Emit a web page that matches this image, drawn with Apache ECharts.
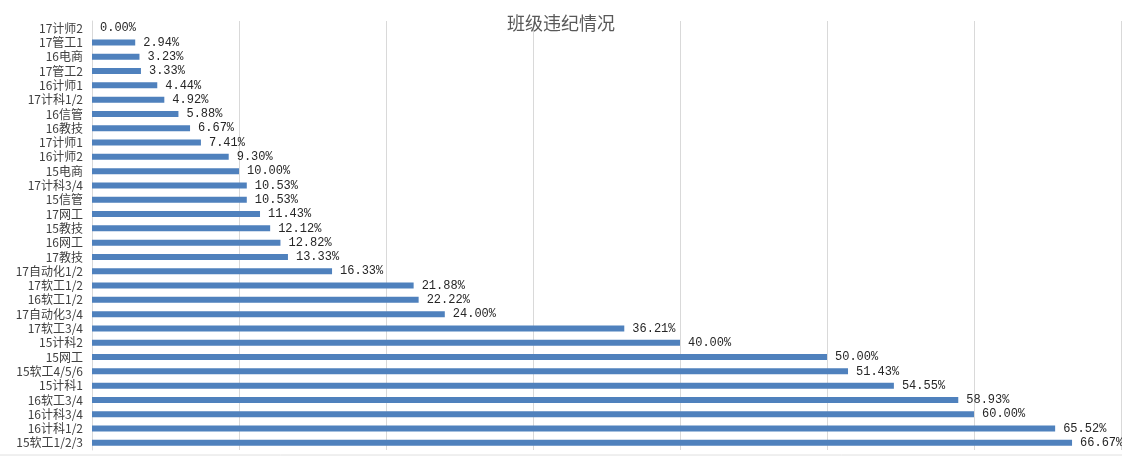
<!DOCTYPE html>
<html><head><meta charset="utf-8">
<script src="https://cdn.jsdelivr.net/npm/echarts@6/dist/echarts.min.js"></script>
<style>html,body{margin:0;padding:0;background:#fff}#c{width:1122px;height:458px}</style>
</head><body><div id="c"></div>
<script>
const categories = ["17计师2","17管工1","16电商","17管工2","16计师1","17计科1/2","16信管","16教技","17计师1","16计师2","15电商","17计科3/4","15信管","17网工","15教技","16网工","17教技","17自动化1/2","17软工1/2","16软工1/2","17自动化3/4","17软工3/4","15计科2","15网工","15软工4/5/6","15计科1","16软工3/4","16计科3/4","16计科1/2","15软工1/2/3"];
const values = [0.00,2.94,3.23,3.33,4.44,4.92,5.88,6.67,7.41,9.30,10.00,10.53,10.53,11.43,12.12,12.82,13.33,16.33,21.88,22.22,24.00,36.21,40.00,50.00,51.43,54.55,58.93,60.00,65.52,66.67];
const titleText = "班级违纪情况";

const chart = echarts.init(document.getElementById('c'), null, {renderer:'canvas'});
chart.setOption({
  animation:false,
  title:{text:titleText,left:'center',top:9,textStyle:{fontFamily:'Noto Sans CJK SC',fontSize:18,fontWeight:'normal',color:'#595959'}},
  grid:{left:92,right:1,top:21,bottom:8,containLabel:false},
  xAxis:{type:'value',min:0,max:70,interval:10,axisLabel:{show:false},axisLine:{show:false},axisTick:{show:false},
    splitLine:{show:true,lineStyle:{color:'#d9d9d9',width:1}}},
  yAxis:{type:'category',inverse:true,data:categories,
    axisLine:{show:true,lineStyle:{color:'#d9d9d9'}},axisTick:{show:false},
    axisLabel:{interval:0,fontFamily:'Noto Sans CJK SC',fontSize:12,color:'#404040',margin:9}},
  series:[{type:'bar',data:values,barWidth:6,itemStyle:{color:'#4f81bd'},
    label:{show:true,position:'right',distance:8,fontFamily:'Liberation Mono',fontSize:12,color:'#262626',
      formatter:p=>p.value.toFixed(2)+'%'}}],
  graphic:[{type:'line',shape:{x1:0,y1:455,x2:1122,y2:455},style:{stroke:'#e0e0e0',lineWidth:1}}]
});
</script></body></html>
